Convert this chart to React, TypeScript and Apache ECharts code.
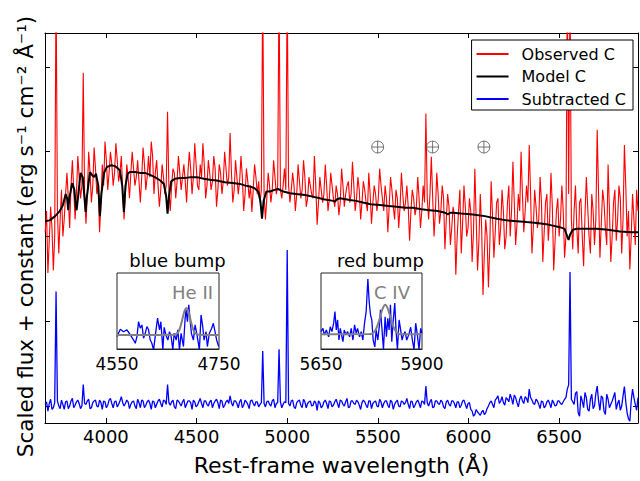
import React, { useEffect, useRef } from "react";
import * as echarts from "echarts";

const FONT = "DejaVu Sans";

// Main spectrum: primary samples every 15 Å from 3665 Å, plus the samples half-way between them
const WAVE_START = 3665;
const WAVE_STEP = 15;

const observedFlux = [
  2.05, 1.57, 2.35, 1.6, 5.0, 1.8, 2.55, 2.2, 2.75, 2.1,
  2.9, 2.2, 2.95, 2.45, 3.93, 2.15, 3.0, 2.4, 3.05, 2.5,
  2.05, 2.85, 3.12, 2.55, 3.0, 2.6, 3.1, 2.65, 2.95, 2.2,
  2.85, 2.45, 3.0, 2.6, 2.9, 2.4, 3.05, 2.55, 2.95, 3.12,
  2.5, 2.9, 2.35, 2.85, 2.5, 3.47, 2.3, 2.8, 2.45, 2.95,
  2.55, 2.85, 2.4, 3.0, 2.5, 3.1, 2.6, 2.85, 3.1, 2.45,
  2.9, 2.55, 2.95, 2.35, 2.85, 2.5, 3.0, 2.6, 3.22, 2.4,
  2.9, 2.5, 2.95, 2.3, 2.8, 2.45, 2.29, 2.85, 2.5, 2.4,
  5.0, 2.2, 2.75, 2.4, 2.9, 2.5, 5.0, 2.45, 2.8, 5.0,
  2.4, 2.75, 2.3, 2.85, 2.45, 2.9, 2.35, 2.7, 2.5, 2.95,
  2.14, 2.7, 2.4, 2.85, 2.3, 2.75, 2.45, 2.6, 2.25, 2.8,
  2.35, 2.6, 2.4, 2.88, 2.3, 2.7, 2.2, 2.65, 2.4, 2.75,
  2.15, 2.6, 2.3, 2.8, 2.45, 2.6, 2.05, 2.7, 2.35, 2.55,
  2.1, 2.75, 2.3, 2.6, 1.95, 2.55, 2.25, 2.7, 2.1, 2.6,
  3.45, 2.2, 2.94, 2.0, 2.75, 2.15, 2.6, 1.85, 2.5, 1.9,
  2.35, 1.55, 2.3, 1.8, 2.6, 2.0, 2.45, 1.7, 2.8, 1.6,
  2.5, 1.31, 2.2, 1.4, 2.65, 1.75, 2.4, 1.9, 2.55, 1.85,
  2.4, 2.0, 2.88, 1.9, 2.5, 3.0, 2.05, 2.6, 3.08, 1.8,
  2.55, 2.1, 2.7, 1.7, 2.4, 1.95, 2.75, 1.6, 2.3, 2.0,
  2.6, 1.75, 5.0, 5.0, 1.85, 2.6, 1.8, 2.45, 1.65, 2.7,
  2.0, 2.5, 1.9, 3.26, 1.75, 2.55, 2.1, 2.85, 1.7, 2.4,
  1.95, 2.6, 1.8, 3.08, 2.0, 1.61, 2.5, 1.9, 2.3,
];
const observedFluxMid = [
  2.3, 1.95, 2.1, 2.0, 2.3, 2.2, 2.0, 2.5, 2.45, 2.6,
  2.55, 2.5, 2.7, 2.6, 2.5, 2.5, 2.75, 2.6, 2.8, 2.6,
  2.4, 2.6, 2.9, 2.75, 2.85, 2.75, 2.9, 2.75, 2.55, 2.5,
  2.7, 2.75, 2.8, 2.7, 2.65, 2.7, 2.85, 2.7, 2.7, 2.95,
  2.75, 2.6, 2.55, 2.7, 2.6, 2.55, 2.6, 2.75, 2.65, 2.75,
  2.7, 2.65, 2.75, 2.8, 2.7, 2.85, 2.55, 2.7, 2.85, 2.6,
  2.75, 2.65, 2.8, 2.55, 2.75, 2.65, 2.8, 2.7, 2.75, 2.55,
  2.7, 2.65, 2.7, 2.5, 2.65, 2.6, 2.55, 2.7, 2.65, 2.55,
  2.5, 2.45, 2.6, 2.55, 2.7, 2.6, 2.55, 2.6, 2.55, 2.6,
  2.55, 2.6, 2.5, 2.65, 2.55, 2.7, 2.45, 2.6, 2.45, 2.6,
  2.4, 2.55, 2.5, 2.6, 2.45, 2.6, 2.35, 2.5, 2.4, 2.6,
  2.5, 2.65, 2.5, 2.6, 2.45, 2.55, 2.4, 2.55, 2.3, 2.5,
  2.4, 2.5, 2.45, 2.6, 2.3, 2.45, 2.35, 2.55, 2.2, 2.45,
  2.35, 2.5, 2.4, 2.35, 2.3, 2.45, 2.35, 2.45, 2.3, 2.4,
  2.45, 2.5, 2.45, 2.3, 2.5, 2.3, 2.45, 2.2, 2.35, 2.1,
  2.25, 2.0, 2.55, 2.15, 2.35, 2.1, 2.3, 2.05, 2.2, 1.95,
  2.1, 1.8, 2.0, 1.9, 2.25, 2.05, 2.45, 2.1, 2.3, 2.0,
  2.6, 2.3, 2.4, 2.15, 2.3, 2.5, 2.3, 2.4, 2.5, 2.1,
  2.35, 2.2, 2.4, 2.05, 2.5, 2.2, 2.35, 1.95, 2.45, 2.2,
  2.3, 2.0, 2.5, 2.2, 2.3, 2.1, 2.4, 2.0, 2.25, 2.35,
  1.8, 2.3, 2.2, 2.5, 2.15, 2.4, 1.9, 2.3, 2.0, 2.55,
  2.2, 2.45, 2.2, 2.6, 2.3, 2.0, 2.2, 2.55,
];

const subtractedFlux = [
  0.02, -0.06, 0.08, -0.02, 1.35, 0.0, 0.07, -0.04, 0.06, 0.0,
  0.09, 0.01, 0.07, -0.03, 0.255, 0.02, 0.08, -0.02, 0.06, 0.0,
  0.07, -0.04, 0.05, 0.01, 0.09, -0.02, 0.06, 0.02, 0.11, 0.0,
  0.07, -0.03, 0.05, 0.0, 0.08, -0.02, 0.06, 0.01, 0.07, -0.04,
  0.05, 0.02, 0.08, -0.01, 0.06, 0.255, 0.01, 0.07, -0.03, 0.06,
  0.0, 0.08, 0.02, 0.06, -0.04, 0.05, 0.01, 0.09, -0.02, 0.06,
  0.0, 0.07, 0.03, 0.08, -0.03, 0.06, 0.01, 0.07, 0.12, 0.0,
  0.06, -0.02, 0.08, 0.01, 0.05, -0.03, 0.07, 0.0, 0.05, 0.02,
  0.65, -0.01, 0.06, 0.0, 0.08, 0.03, 0.67, -0.02, 0.05, 1.84,
  0.0, 0.07, -0.03, 0.06, 0.01, 0.08, -0.02, 0.05, 0.0, 0.06,
  -0.05, 0.04, 0.0, 0.07, -0.03, 0.05, 0.01, 0.08, -0.02, 0.06,
  0.0, 0.09, -0.01, 0.06, 0.02, 0.05, -0.04, 0.07, 0.01, 0.06,
  -0.03, 0.05, 0.0, 0.08, -0.02, 0.06, 0.01, 0.07, -0.04, 0.05,
  0.0, 0.06, 0.02, 0.09, -0.03, 0.05, 0.01, 0.07, -0.02, 0.05,
  0.235, 0.0, 0.08, -0.01, 0.06, 0.02, 0.05, -0.03, 0.07, 0.0,
  0.06, -0.02, 0.05, 0.01, 0.07, -0.03, 0.04, -0.06, -0.1, -0.07,
  -0.11, -0.05, -0.08, 0.0, 0.06, -0.02, 0.09, 0.03, 0.11, 0.01,
  0.08, 0.14, 0.02, 0.1, -0.01, 0.12, 0.03, 0.09, 0.2, 0.07,
  0.02, 0.06, -0.03, 0.05, 0.0, 0.07, -0.02, 0.04, 0.01, 0.06,
  0.02, 0.08, 0.2, 1.58, 0.05, 0.15, -0.08, 0.12, -0.02, 0.1,
  -0.06, 0.14, 0.0, 0.235, -0.05, 0.1, -0.1, 0.08, 0.02, 0.11,
  -0.04, 0.07, 0.0, 0.23, -0.08, -0.18, 0.2, 0.02, 0.1,
];
const subtractedFluxMid = [
  0.05, 0.03, -0.04, 0.04, 0.06, -0.03, 0.02, 0.05, -0.03, 0.06,
  -0.02, 0.05, 0.03, 0.0, 0.03, 0.06, -0.03, 0.04, 0.07, -0.01,
  0.04, 0.06, -0.02, 0.07, 0.03, 0.05, -0.01, 0.06, 0.04, 0.03,
  0.05, 0.02, 0.06, -0.03, 0.04, 0.07, -0.02, 0.05, 0.03, 0.06,
  -0.02, 0.06, 0.03, 0.07, 0.02, 0.04, 0.05, -0.01, 0.07, 0.03,
  0.05, -0.02, 0.06, 0.04, 0.07, -0.01, 0.05, 0.03, 0.06, 0.02,
  0.05, -0.02, 0.06, 0.04, 0.07, -0.02, 0.05, 0.03, 0.04, 0.06,
  0.03, 0.05, -0.02, 0.07, 0.02, 0.06, 0.03, 0.05, -0.01, 0.04,
  0.03, 0.05, 0.02, 0.06, -0.02, 0.04, 0.05, 0.02, 0.04, 0.03,
  0.06, -0.01, 0.04, 0.07, -0.02, 0.05, 0.03, 0.06, 0.01, 0.04,
  0.06, -0.02, 0.05, 0.03, 0.06, -0.01, 0.05, 0.03, 0.07, 0.02,
  0.05, -0.02, 0.06, 0.03, 0.07, 0.01, 0.04, 0.05, -0.02, 0.06,
  0.03, 0.06, -0.01, 0.05, 0.03, 0.06, -0.02, 0.05, 0.02, 0.07,
  -0.01, 0.05, 0.04, 0.02, 0.06, -0.02, 0.05, 0.03, 0.06, 0.02,
  0.04, 0.05, -0.02, 0.06, 0.03, 0.07, -0.01, 0.05, 0.02, 0.06,
  0.03, 0.05, -0.02, 0.06, 0.02, 0.03, -0.04, -0.12, -0.04, -0.09,
  -0.07, -0.1, -0.03, 0.04, 0.02, 0.07, 0.12, 0.06, 0.04, 0.1,
  0.05, 0.09, 0.13, 0.04, 0.08, 0.06, 0.11, 0.04, 0.1, 0.03,
  0.08, 0.02, 0.06, -0.02, 0.05, 0.03, 0.07, 0.0, 0.06, 0.03,
  0.05, 0.1, 0.25, 0.08, 0.02, 0.17, -0.12, 0.06, 0.16, -0.04,
  0.08, -0.03, 0.15, 0.06, 0.12, -0.06, 0.14, -0.02, 0.06, 0.16,
  0.03, -0.05, 0.12, 0.05, -0.15, 0.06, 0.1, -0.05,
];

const modelWave = [
  3664, 3690, 3720, 3745, 3763, 3778, 3786, 3792, 3798, 3814,
  3826, 3834, 3838, 3843, 3860, 3872, 3882, 3888, 3894, 3912,
  3925, 3935, 3945, 3958, 3967, 3975, 3990, 4005, 4030, 4050,
  4077, 4090, 4099, 4108, 4120, 4132, 4160, 4190, 4215, 4240,
  4270, 4300, 4320, 4332, 4340, 4348, 4360, 4380, 4410, 4436,
  4470, 4502, 4540, 4574, 4610, 4656, 4700, 4739, 4770, 4794,
  4820, 4840, 4852, 4861, 4870, 4885, 4905, 4930, 4949, 4980,
  5015, 5050, 5098, 5140, 5180, 5200, 5255, 5263, 5275, 5291,
  5346, 5380, 5418, 5460, 5511, 5560, 5605, 5650, 5693, 5740,
  5787, 5830, 5870, 5886, 5900, 5914, 5960, 6024, 6090, 6157,
  6210, 6267, 6320, 6377, 6440, 6504, 6530, 6545, 6552, 6560,
  6575, 6598, 6650, 6708, 6770, 6835, 6900, 6935,
];
const modelFlux = [
  2.18, 2.19, 2.24, 2.3, 2.37, 2.5, 2.45, 2.31, 2.45, 2.63,
  2.55, 2.35, 2.31, 2.4, 2.75, 2.7, 2.45, 2.29, 2.45, 2.76,
  2.72, 2.7, 2.74, 2.6, 2.24, 2.5, 2.75, 2.82, 2.84, 2.83,
  2.78, 2.6, 2.29, 2.6, 2.74, 2.76, 2.76, 2.75, 2.75, 2.73,
  2.7, 2.66, 2.62, 2.48, 2.27, 2.48, 2.65, 2.68, 2.69, 2.69,
  2.7, 2.7, 2.68, 2.67, 2.66, 2.64, 2.63, 2.62, 2.6, 2.59,
  2.57, 2.53, 2.42, 2.21, 2.42, 2.53, 2.53, 2.55, 2.56, 2.53,
  2.51, 2.5, 2.49, 2.47, 2.45, 2.44, 2.42, 2.41, 2.44, 2.45,
  2.43, 2.42, 2.4, 2.38, 2.37, 2.36, 2.35, 2.34, 2.34, 2.32,
  2.31, 2.3, 2.28, 2.26, 2.28, 2.28, 2.27, 2.26, 2.24, 2.21,
  2.19, 2.18, 2.17, 2.16, 2.14, 2.11, 2.09, 2.0, 1.96, 2.02,
  2.08, 2.09, 2.09, 2.09, 2.08, 2.06, 2.05, 2.05,
];

const telluricWave = [5499, 5802, 6085];
const telluricLevel = [3.055, 3.055, 3.055];

const xTicks = [4000, 4500, 5000, 5500, 6000, 6500];
const yTicks = [0, 1, 2, 3, 4];

// Inset: blue bump (He II 4686)
const blueBumpTicks = [4550, 4750];
const blueBumpWave = [
  4550.0, 4556.5, 4563.0, 4569.5, 4576.1, 4582.6, 4585.8, 4589.1, 4592.3, 4595.6,
  4598.9, 4602.1, 4605.4, 4608.6, 4611.9, 4615.2, 4618.4, 4621.7, 4624.9, 4629.5,
  4633.4, 4636.0, 4639.9, 4642.5, 4645.8, 4649.7, 4652.9, 4656.2, 4659.5, 4662.1,
  4666.0, 4669.2, 4672.5, 4675.7, 4680.3, 4683.6, 4685.5, 4688.1, 4690.7, 4693.3,
  4695.9, 4699.8, 4703.1, 4706.4, 4711.6, 4714.8, 4718.1, 4720.7, 4724.6, 4727.2,
  4731.1, 4735.7, 4738.9, 4742.2, 4745.4, 4749.4,
];
const blueBumpFlux = [
  -0.06, 0.21, 0.12, 0.19, 0.0, -0.19, -0.31, -0.06, 0.49, 0.25,
  0.37, -0.12, 0.06, 0.31, 0.19, -0.19, -0.31, -0.55, -0.06, 0.62,
  0.19, 0.49, -0.55, 0.28, 0.0, -0.19, 0.12, -0.06, -0.55, 0.06,
  -0.19, 0.19, -0.55, 0.06, -0.43, 0.62, 0.93, 0.49, 1.11, 0.56,
  0.06, -0.19, 0.37, 0.06, -0.55, 0.74, 0.31, -0.19, 0.12, -0.43,
  0.06, 0.25, 0.43, 0.12, -0.19, -0.43,
];
const heIIWave = [4550, 4662, 4668, 4671, 4674, 4677, 4680, 4683, 4686, 4689, 4692, 4695, 4698, 4701, 4704, 4710, 4750];
const heIIFlux = [0, 0.01, 0.056, 0.135, 0.28, 0.49, 0.73, 0.92, 1.0, 0.92, 0.73, 0.49, 0.28, 0.135, 0.056, 0.01, 0];

// Inset: red bump (C IV 5808)
const redBumpTicks = [5650, 5900];
const redBumpWave = [
  5650.0, 5654.9, 5658.2, 5663.2, 5668.9, 5673.0, 5677.1, 5681.3, 5684.5, 5687.8,
  5691.1, 5694.4, 5697.7, 5701.8, 5704.3, 5707.6, 5711.7, 5715.8, 5720.7, 5724.8,
  5729.0, 5733.1, 5737.2, 5740.5, 5745.4, 5749.5, 5753.6, 5757.7, 5761.8, 5766.0,
  5769.2, 5772.5, 5775.8, 5779.1, 5783.2, 5786.5, 5790.6, 5794.7, 5797.2, 5800.5,
  5804.6, 5808.7, 5812.0, 5815.3, 5818.6, 5821.9, 5825.2, 5828.5, 5832.6, 5835.9,
  5839.2, 5843.3, 5846.6, 5850.7, 5854.0, 5858.1, 5862.2, 5867.1, 5872.0, 5876.2,
  5880.3, 5884.4, 5888.5, 5892.6, 5896.7, 5900.0,
];
const redBumpFlux = [
  0.1, 0.22, -0.02, 0.16, -0.09, 0.28, 0.1, 0.41, 0.84, 0.16,
  0.53, -0.21, 0.22, -0.09, -0.27, 0.16, -0.02, 0.1, -0.09, 0.22,
  -0.21, 0.35, 0.04, 0.22, -0.09, 0.1, -0.21, 0.41, 0.84, 2.04,
  1.21, 0.72, 0.53, -0.21, -0.46, 0.16, -0.21, 0.35, 0.9, 0.28,
  -0.56, 0.65, -0.09, 0.59, 0.16, 1.09, -0.27, 0.47, 1.15, 0.1,
  -0.56, 0.53, 0.22, -0.21, -0.02, 0.1, -0.21, -0.02, 0.26, -0.21,
  -0.56, 0.41, -0.02, -0.56, 0.22, 0.04,
];
const cIVWave = [5650, 5770, 5775, 5781, 5785, 5789, 5793, 5797, 5801, 5805, 5809, 5813, 5817, 5821, 5825, 5829, 5833, 5837, 5843, 5850, 5900];
const cIVFlux = [0, 0.01, 0.02, 0.08, 0.16, 0.29, 0.47, 0.67, 0.88, 1.03, 1.09, 1.03, 0.88, 0.67, 0.47, 0.29, 0.16, 0.08, 0.02, 0, 0];

const pairs = (xs: number[], ys: number[]) => xs.map((x, i) => [x, ys[i]]);
// interleave the primary and half-step samples into one wavelength-ordered series
const interleave = (main: number[], mid: number[]) => {
  const out: number[][] = [];
  main.forEach((v, i) => {
    out.push([WAVE_START + WAVE_STEP * i, v]);
    if (i < mid.length) out.push([WAVE_START + WAVE_STEP * i + WAVE_STEP / 2, mid[i]]);
  });
  return out;
};

const MAIN_X_MIN = 3664;
const MAIN_X_MAX = 6935;
const MAIN_Y_MIN = -0.2;
const MAIN_Y_MAX = 4.4;

export default function App() {
  const ref = useRef<HTMLDivElement>(null);

  useEffect(() => {
    if (!ref.current) return;
    const chart = echarts.init(ref.current, null, { renderer: "svg" });

    const mainAxisLine = { show: true, onZero: false, lineStyle: { color: "#000", width: 1 } };
    const insetAxisLine = { show: true, onZero: false, lineStyle: { color: "#222", width: 1 } };
    const txt = (extra: any) => ({ fontFamily: FONT, color: "#000", ...extra });
    const plain = (v: number) => String(v);

    const option: any = {
      animation: false,
      backgroundColor: "#ffffff",
      textStyle: { fontFamily: FONT },
      grid: [
        { left: 45, top: 33, width: 593, height: 391, show: false },
        { left: 117, top: 273, width: 102, height: 76, show: true, borderColor: "#222", borderWidth: 1, backgroundColor: "#fff" },
        { left: 321, top: 273, width: 101, height: 76, show: true, borderColor: "#222", borderWidth: 1, backgroundColor: "#fff" },
      ],
      xAxis: [
        {
          gridIndex: 0, type: "value", position: "bottom", min: MAIN_X_MIN, max: MAIN_X_MAX,
          axisLine: mainAxisLine,
          axisTick: { show: true, inside: true, length: 5, customValues: xTicks, lineStyle: { color: "#000" } },
          axisLabel: { customValues: xTicks, formatter: plain, ...txt({ fontSize: 18 }), margin: 4 },
          splitLine: { show: false },
          name: "Rest-frame wavelength (Å)", nameLocation: "middle", nameGap: 31,
          nameTextStyle: txt({ fontSize: 22 }),
        },
        {
          gridIndex: 0, type: "value", position: "top", min: MAIN_X_MIN, max: MAIN_X_MAX,
          axisLine: mainAxisLine,
          axisTick: { show: true, inside: true, length: 5, customValues: xTicks, lineStyle: { color: "#000" } },
          axisLabel: { show: false },
          splitLine: { show: false },
        },
        {
          gridIndex: 1, type: "value", position: "bottom", min: 4550, max: 4750,
          axisLine: insetAxisLine,
          axisTick: { show: false },
          axisLabel: { customValues: blueBumpTicks, formatter: plain, ...txt({ fontSize: 17 }), margin: 6 },
          splitLine: { show: false },
        },
        {
          gridIndex: 2, type: "value", position: "bottom", min: 5650, max: 5900,
          axisLine: insetAxisLine,
          axisTick: { show: false },
          axisLabel: { customValues: redBumpTicks, formatter: plain, ...txt({ fontSize: 17 }), margin: 6 },
          splitLine: { show: false },
        },
      ],
      yAxis: [
        {
          gridIndex: 0, type: "value", position: "left", min: MAIN_Y_MIN, max: MAIN_Y_MAX,
          axisLine: mainAxisLine,
          axisTick: { show: true, inside: true, length: 5, customValues: yTicks, lineStyle: { color: "#000" } },
          axisLabel: { show: false },
          splitLine: { show: false },
        },
        {
          gridIndex: 0, type: "value", position: "right", min: MAIN_Y_MIN, max: MAIN_Y_MAX,
          axisLine: mainAxisLine,
          axisTick: { show: true, inside: true, length: 5, customValues: yTicks, lineStyle: { color: "#000" } },
          axisLabel: { show: false },
          splitLine: { show: false },
        },
        {
          gridIndex: 1, type: "value", min: -0.52, max: 2.29,
          axisLine: { show: false }, axisTick: { show: false }, axisLabel: { show: false }, splitLine: { show: false },
        },
        {
          gridIndex: 2, type: "value", min: -0.54, max: 2.26,
          axisLine: { show: false }, axisTick: { show: false }, axisLabel: { show: false }, splitLine: { show: false },
        },
      ],
      legend: {
        orient: "vertical",
        right: 7,
        top: 40,
        padding: [6, 7, 3, 5],
        itemWidth: 32,
        itemHeight: 2,
        itemGap: 6.5,
        borderColor: "#000",
        borderWidth: 1,
        borderRadius: 0,
        backgroundColor: "#fff",
        textStyle: txt({ fontSize: 16, lineHeight: 16, padding: [0, 0, 0, 8] }),
        data: [
          { name: "Observed C", icon: "rect" },
          { name: "Model C", icon: "rect" },
          { name: "Subtracted C", icon: "rect" },
        ],
      },
      graphic: [
        {
          type: "text", x: 25, y: 236.5, rotation: Math.PI / 2,
          style: {
            text: "Scaled flux + constant (erg s⁻¹ cm⁻² Å⁻¹)",
            fontFamily: FONT, fontSize: 21.5, fill: "#000",
            align: "center", verticalAlign: "middle", textAlign: "center", textVerticalAlign: "middle",
          },
        },
        {
          type: "text", x: 177.5, y: 260,
          style: { text: "blue bump", fontFamily: FONT, fontSize: 18, fill: "#000", align: "center", verticalAlign: "middle", textAlign: "center", textVerticalAlign: "middle" },
        },
        {
          type: "text", x: 380.5, y: 260,
          style: { text: "red bump", fontFamily: FONT, fontSize: 18, fill: "#000", align: "center", verticalAlign: "middle", textAlign: "center", textVerticalAlign: "middle" },
        },
        {
          type: "text", x: 213, y: 292, z: 10,
          style: { text: "He II", fontFamily: FONT, fontSize: 18, fill: "#808080", align: "right", verticalAlign: "middle", textAlign: "right", textVerticalAlign: "middle" },
        },
        {
          type: "text", x: 410, y: 292, z: 10,
          style: { text: "C IV", fontFamily: FONT, fontSize: 18, fill: "#808080", align: "right", verticalAlign: "middle", textAlign: "right", textVerticalAlign: "middle" },
        },
      ],
      series: [
        {
          name: "Observed C", type: "line", xAxisIndex: 0, yAxisIndex: 0,
          data: interleave(observedFlux, observedFluxMid), symbol: "none", showSymbol: false,
          lineStyle: { color: "#ff0000", width: 1.1 }, itemStyle: { color: "#ff0000" }, z: 2,
        },
        {
          name: "Model C", type: "line", xAxisIndex: 0, yAxisIndex: 0,
          data: pairs(modelWave, modelFlux), symbol: "none", showSymbol: false,
          lineStyle: { color: "#000000", width: 2 }, itemStyle: { color: "#000000" }, z: 3,
        },
        {
          name: "Subtracted C", type: "line", xAxisIndex: 0, yAxisIndex: 0,
          data: interleave(subtractedFlux, subtractedFluxMid), symbol: "none", showSymbol: false,
          lineStyle: { color: "#0000ff", width: 1.3 }, itemStyle: { color: "#0000ff" }, z: 3,
        },
        {
          name: "telluric", type: "scatter", xAxisIndex: 0, yAxisIndex: 0,
          data: pairs(telluricWave, telluricLevel),
          symbol: "path://M2,12A10,10 0 1,1 22,12A10,10 0 1,1 2,12Z M2,12L22,12 M12,2L12,22",
          symbolSize: 12,
          itemStyle: { color: "rgba(0,0,0,0)", borderColor: "#555", borderWidth: 1 },
          z: 4,
        },
        {
          name: "blue bump data", type: "line", xAxisIndex: 2, yAxisIndex: 2,
          data: pairs(blueBumpWave, blueBumpFlux), symbol: "none", showSymbol: false,
          lineStyle: { color: "#0000ff", width: 1.3 }, z: 5,
        },
        {
          name: "He II fit", type: "line", xAxisIndex: 2, yAxisIndex: 2,
          data: pairs(heIIWave, heIIFlux), symbol: "none", showSymbol: false, smooth: 0.3,
          lineStyle: { color: "#808080", width: 2 }, z: 6,
        },
        {
          name: "red bump data", type: "line", xAxisIndex: 3, yAxisIndex: 3,
          data: pairs(redBumpWave, redBumpFlux), symbol: "none", showSymbol: false,
          lineStyle: { color: "#0000ff", width: 1.3 }, z: 5,
        },
        {
          name: "C IV fit", type: "line", xAxisIndex: 3, yAxisIndex: 3,
          data: pairs(cIVWave, cIVFlux), symbol: "none", showSymbol: false, smooth: 0.3,
          lineStyle: { color: "#808080", width: 2 }, z: 6,
        },
      ],
    };

    chart.setOption(option);
    return () => chart.dispose();
  }, []);

  return (
    <div
      ref={ref}
      style={{ position: "absolute", left: 0, top: 0, width: 640, height: 481, background: "#fff" }}
    />
  );
}
